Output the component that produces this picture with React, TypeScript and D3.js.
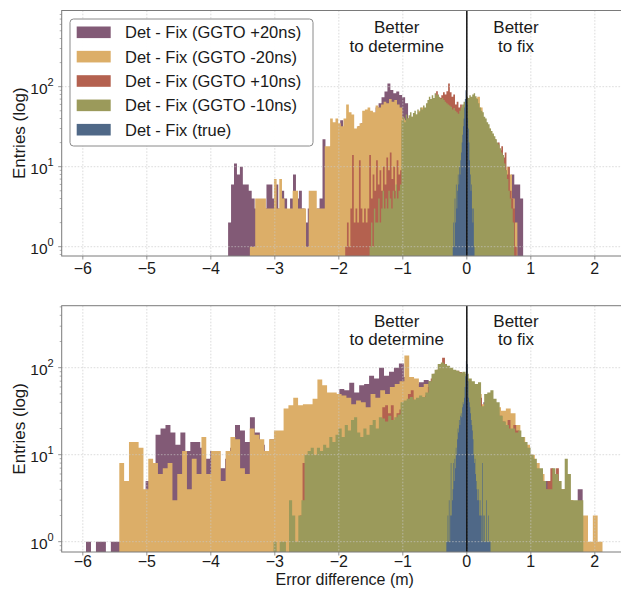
import React from 'react';
import * as d3 from 'd3';

const FONT = '"Liberation Sans", Arial, Helvetica, sans-serif';

const xTickValues = [-6, -5, -4, -3, -2, -1, 0, 1, 2];
const yTickExponents = [0, 1, 2];
const seriesLabels = [
  'Det - Fix (GGTO +20ns)',
  'Det - Fix (GGTO -20ns)',
  'Det - Fix (GGTO +10ns)',
  'Det - Fix (GGTO -10ns)',
  'Det - Fix (true)',
];
const seriesColors = ['#825a76', '#dcae68', '#b4614f', '#9b9a5b', '#4f6887'];

// ---------------- top panel (bin range + counts per series) ----------------
const topPlus20Range = [-3.73, 0.88];
const topPlus20Counts = [
  2, 6, 11, 8, 10, 6, 6, 5, 4, 3,
  3, 2, 3, 6, 6, 4, 6, 3, 5, 4,
  2, 4, 8, 4, 5, 3, 2, 3, 3, 2,
  3, 4, 22, 15, 17, 28, 30, 25, 38, 30,
  35, 30, 25, 28, 32, 35, 40, 38, 42, 45,
  55, 62, 74, 87, 110, 91, 83, 87, 79, 74,
  62, 40, 35, 40, 38, 42, 40, 45, 42, 40,
  45, 40, 38, 40, 35, 38, 35, 30, 32, 30,
  35, 30, 32, 30, 28, 25, 22, 20, 18, 15,
  14, 12, 10, 9, 8, 7, 8, 6, 6, 4,
];
const topMinus20Range = [-3.39, 0.79];
const topMinus20Counts = [
  1, 1, 4, 4, 4, 4, 3, 3, 3, 7,
  3, 7, 4, 3, 3, 3, 5, 5, 3, 3,
  3, 1, 5, 5, 5, 3, 3, 3, 18, 18,
  40, 36, 40, 35, 32, 40, 60, 48, 45, 30,
  32, 35, 50, 52, 55, 50, 48, 58, 55, 60,
  65, 62, 70, 65, 68, 60, 55, 40, 38, 40,
  42, 40, 45, 50, 55, 50, 55, 60, 58, 55,
  50, 55, 52, 50, 48, 45, 50, 45, 48, 50,
  55, 60, 65, 60, 72, 75, 55, 40, 35, 30,
  25, 20, 15, 14, 12, 9, 10, 8, 4, 2,
];
const topPlus10Range = [-1.9, 0.78];
const topPlus10Counts = [
  1, 2, 1, 3, 14, 2, 3, 2, 12, 3,
  2, 3, 2, 3, 14, 4, 8, 5, 12, 6,
  9, 5, 10, 6, 13, 9, 15, 7, 10, 5,
  12, 8, 9, 30, 25, 35, 30, 40, 35, 38,
  45, 40, 35, 45, 50, 45, 48, 52, 55, 60,
  62, 68, 65, 88, 75, 72, 78, 85, 80, 88,
  110, 85, 75, 80, 60, 65, 55, 60, 50, 55,
  60, 55, 58, 50, 55, 50, 45, 48, 40, 42,
  35, 36, 30, 28, 26, 24, 20, 22, 18, 20,
  16, 18, 13, 15, 8, 10, 5, 4, 3, 1,
];
const topMinus10Range = [-1.52, 0.74];
const topMinus10Counts = [
  1, 2, 1, 3, 2, 2, 4, 2, 3, 5,
  3, 4, 3, 5, 4, 3, 5, 4, 6, 4,
  5, 6, 38, 42, 36, 45, 40, 44, 48, 42,
  47, 50, 45, 52, 48, 55, 52, 58, 55, 62,
  68, 75, 70, 78, 72, 83, 78, 80, 74, 70,
  72, 68, 65, 62, 60, 58, 56, 52, 54, 50,
  48, 46, 50, 55, 60, 65, 70, 75, 72, 78,
  75, 80, 83, 76, 70, 62, 55, 50, 48, 42,
  40, 36, 34, 30, 28, 26, 24, 22, 20, 19,
  17, 15, 14, 11, 9, 7, 5, 4, 3, 2,
];
const topTrueRange = [-0.22, 0.12];
const topTrueCounts = [
  1, 2, 1, 4, 2, 6, 3, 5, 8, 6,
  10, 8, 12, 15, 20, 25, 32, 40, 55, 70,
  90, 85, 60, 40, 30, 20, 12, 8, 5, 6,
  3, 2, 3, 1,
];

// ---------------- bottom panel ----------------
const botPlus20Range = [-5.95, 1.81];
const botPlus20Counts = [
  1, 0, 1, 1, 0, 1, 1, 3, 4, 5,
  4, 3, 5, 6, 17, 20, 22, 18, 13, 18,
  11, 14, 14, 12, 9, 11, 11, 7, 9, 12,
  22, 19, 14, 27, 18, 13, 11, 15, 12, 18,
  25, 30, 28, 30, 25, 32, 35, 40, 38, 42,
  45, 57, 55, 67, 52, 63, 65, 81, 75, 100,
  81, 90, 100, 112, 78, 70, 65, 68, 72, 70,
  75, 80, 78, 82, 75, 70, 72, 60, 55, 34,
  40, 42, 33, 28, 25, 22, 18, 15, 12, 10,
  8, 6, 5, 5, 5, 4, 4, 3, 2, 4,
];
const botMinus20Range = [-5.43, 2.12];
const botMinus20Counts = [
  8, 5, 14, 14, 12, 4, 9, 8, 6, 7,
  8, 3, 6, 11, 4, 9, 6, 16, 6, 11,
  11, 5, 11, 16, 15, 7, 6, 20, 17, 15,
  11, 15, 19, 19, 34, 37, 45, 37, 38, 38,
  44, 73, 63, 52, 52, 50, 48, 45, 38, 42,
  40, 35, 50, 45, 55, 50, 60, 65, 70, 138,
  78, 75, 60, 65, 60, 70, 72, 70, 65, 68,
  62, 60, 55, 52, 50, 38, 45, 40, 35, 32,
  34, 30, 22, 16, 13, 10, 8, 6, 4, 5,
  4, 4, 3, 3, 2, 2, 2, 1, 2, 1,
];
const botPlus10Range = [-2.7, 1.75];
const botPlus10Counts = [
  1, 0, 2, 8, 5, 6, 7, 6, 8, 7,
  9, 8, 10, 9, 12, 13, 12, 14, 13, 15,
  17, 15, 14, 13, 14, 13, 16, 15, 18, 17,
  22, 35, 37, 30, 37, 25, 30, 33, 35, 38,
  50, 55, 42, 40, 42, 45, 48, 60, 75, 85,
  95, 100, 130, 100, 98, 92, 90, 92, 89, 85,
  82, 70, 62, 58, 50, 45, 35, 40, 42, 40,
  35, 30, 28, 24, 22, 25, 18, 22, 19, 15,
  12, 10, 9, 8, 7, 6, 6, 5, 4, 5,
  7, 6, 7, 4, 3, 4, 3, 2, 2, 1,
];
const botMinus10Range = [-3.02, 1.82];
const botMinus10Counts = [
  1, 0, 1, 1, 0, 3, 2, 1, 2, 3,
  10, 11, 12, 10, 12, 11, 13, 12, 16, 14,
  17, 20, 16, 22, 19, 25, 27, 18, 16, 20,
  17, 22, 25, 20, 27, 26, 24, 28, 25, 27,
  29, 40, 42, 44, 46, 43, 45, 48, 46, 52,
  70, 85, 95, 110, 115, 110, 105, 100, 95, 92,
  88, 90, 85, 75, 70, 65, 68, 36, 50, 52,
  55, 44, 40, 28, 24, 22, 20, 20, 18, 19,
  16, 14, 12, 10, 9, 7, 7, 5, 4, 4,
  7, 6, 5, 4, 9, 6, 3, 3, 3, 3,
];
const botTrueRange = [-0.32, 0.37];
const botTrueCounts = [
  1, 1, 2, 1, 3, 1, 2, 8, 2, 3,
  4, 8, 5, 9, 7, 12, 10, 15, 20, 18,
  25, 22, 28, 30, 27, 35, 40, 38, 45, 60,
  80, 120, 160, 110, 70, 45, 40, 35, 30, 25,
  22, 19, 15, 10, 8, 9, 6, 5, 4, 3,
  4, 3, 2, 3, 2, 2, 1, 8, 2, 1,
  2, 1, 1, 3, 1, 1, 2, 1, 1, 1,
];

type Series = { range: number[]; counts: number[]; color: string };

const topSeries: Series[] = [
  { range: topPlus20Range, counts: topPlus20Counts, color: seriesColors[0] },
  { range: topMinus20Range, counts: topMinus20Counts, color: seriesColors[1] },
  { range: topPlus10Range, counts: topPlus10Counts, color: seriesColors[2] },
  { range: topMinus10Range, counts: topMinus10Counts, color: seriesColors[3] },
  { range: topTrueRange, counts: topTrueCounts, color: seriesColors[4] },
];
const bottomSeries: Series[] = [
  { range: botPlus20Range, counts: botPlus20Counts, color: seriesColors[0] },
  { range: botMinus20Range, counts: botMinus20Counts, color: seriesColors[1] },
  { range: botPlus10Range, counts: botPlus10Counts, color: seriesColors[2] },
  { range: botMinus10Range, counts: botMinus10Counts, color: seriesColors[3] },
  { range: botTrueRange, counts: botTrueCounts, color: seriesColors[4] },
];

const W = 621;
const H = 589;
const xDomain = [-6.33, 2.42];
const plotLeft = 61.7;
const plotRight = 621.7;

type PanelCfg = {
  id: string;
  top: number;
  bottom: number;
  yDomain: [number, number];
  series: Series[];
  textBaselines: [number, number];
  tickOffset: number;
  legend: boolean;
  xlabel: boolean;
};

const panels: PanelCfg[] = [
  { id: 'a', top: 10.5, bottom: 256, yDomain: [0.765, 896], series: topSeries, textBaselines: [33.3, 51.7], tickOffset: 17.5, legend: true, xlabel: false },
  { id: 'b', top: 305.7, bottom: 552, yDomain: [0.761, 516], series: bottomSeries, textBaselines: [327, 345.3], tickOffset: 15.3, legend: false, xlabel: true },
];

function histPath(s: Series, x: d3.ScaleLinear<number, number>, y: d3.ScaleLogarithmic<number, number>, base: number) {
  const n = s.counts.length;
  const lo = s.range[0];
  const hi = s.range[1];
  const w = (hi - lo) / n;
  const pts = s.counts.map((c, i) => ({ e: lo + i * w, c }));
  pts.push({ e: hi, c: s.counts[n - 1] });
  const gen = d3
    .area<{ e: number; c: number }>()
    .x((d) => x(d.e))
    .y0(base)
    .y1((d) => (d.c > 0 ? y(d.c) : base))
    .curve(d3.curveStepAfter);
  return gen(pts) || '';
}

function Panel({ cfg, x }: { cfg: PanelCfg; x: d3.ScaleLinear<number, number> }) {
  const y = d3.scaleLog().domain(cfg.yDomain).range([cfg.bottom, cfg.top]);
  const minor: number[] = [];
  for (let k = -1; k <= 3; k++) {
    for (let m = 2; m <= 9; m++) {
      const v = m * Math.pow(10, k);
      if (v > cfg.yDomain[0] && v < cfg.yDomain[1]) minor.push(v);
    }
  }
  const gridColor = '#c9c9c9';
  const spine = '#7a7a7a';
  const cx = (plotLeft + plotRight) / 2;
  const cy = (cfg.top + cfg.bottom) / 2;
  return (
    <g>
      <defs>
        <clipPath id={`clip-${cfg.id}`}>
          <rect x={plotLeft} y={cfg.top} width={plotRight - plotLeft} height={cfg.bottom - cfg.top} />
        </clipPath>
      </defs>
      <g clipPath={`url(#clip-${cfg.id})`}>
        {cfg.series.map((s, i) => (
          <path key={i} d={histPath(s, x, y, cfg.bottom)} fill={s.color} />
        ))}
        {xTickValues.map((t) => (
          <line key={`gx${t}`} x1={x(t)} x2={x(t)} y1={cfg.top} y2={cfg.bottom} stroke={gridColor} strokeWidth={0.8} strokeDasharray="1.6,1.6" opacity={0.8} />
        ))}
        {yTickExponents.map((k) => (
          <line key={`gy${k}`} x1={plotLeft} x2={plotRight} y1={y(Math.pow(10, k))} y2={y(Math.pow(10, k))} stroke={gridColor} strokeWidth={0.8} strokeDasharray="1.6,1.6" opacity={0.8} />
        ))}
        <line x1={x(0)} x2={x(0)} y1={cfg.top} y2={cfg.bottom} stroke="#111" strokeWidth={1.5} />
      </g>
      {/* spines */}
      <rect x={plotLeft} y={cfg.top} width={plotRight - plotLeft} height={cfg.bottom - cfg.top} fill="none" stroke={spine} strokeWidth={1} />
      {/* x ticks */}
      {xTickValues.map((t) => (
        <g key={`xt${t}`}>
          <line x1={x(t)} x2={x(t)} y1={cfg.bottom} y2={cfg.bottom + 3.5} stroke={spine} strokeWidth={0.8} />
          <text x={x(t)} y={cfg.bottom + cfg.tickOffset} textAnchor="middle" fontSize={16} fill="#1a1a1a" fontFamily={FONT}>
            {t < 0 ? `\u2212${Math.abs(t)}` : `${t}`}
          </text>
        </g>
      ))}
      {/* y ticks */}
      {yTickExponents.map((k) => (
        <g key={`yt${k}`}>
          <line x1={plotLeft - 3.5} x2={plotLeft} y1={y(Math.pow(10, k))} y2={y(Math.pow(10, k))} stroke={spine} strokeWidth={0.8} />
          <text x={plotLeft - 8} y={y(Math.pow(10, k)) + 7} textAnchor="end" fontSize={15.5} fill="#1a1a1a" fontFamily={FONT}>
            10<tspan dy={-7.5} fontSize={11}>{k}</tspan>
          </text>
        </g>
      ))}
      {minor.map((v, i) => (
        <line key={`mt${i}`} x1={plotLeft - 2} x2={plotLeft} y1={y(v)} y2={y(v)} stroke={spine} strokeWidth={0.6} />
      ))}
      <text transform={`translate(24.5,${cy}) rotate(-90)`} textAnchor="middle" fontSize={17} fill="#1a1a1a" fontFamily={FONT}>
        Entries (log)
      </text>
      {/* annotations */}
      <g fontFamily={FONT} fontSize={17} fill="#1a1a1a" textAnchor="middle">
        <text x={396.7} y={cfg.textBaselines[0]}>Better</text>
        <text x={396.7} y={cfg.textBaselines[1]}>to determine</text>
        <text x={516} y={cfg.textBaselines[0]}>Better</text>
        <text x={516} y={cfg.textBaselines[1]}>to fix</text>
      </g>
      {cfg.xlabel && (
        <text x={cx + 3} y={585.4} textAnchor="middle" fontSize={16} fill="#1a1a1a" fontFamily={FONT}>
          Error difference (m)
        </text>
      )}
      {cfg.legend && (
        <g fontFamily={FONT}>
          <rect x={70} y={19} width={243} height={127} rx={3.5} fill="#fff" fillOpacity={0.95} stroke="#8a8a8a" strokeWidth={1} />
          {seriesLabels.map((lab, i) => {
            const rowY = 32.3 + i * 24.35;
            return (
              <g key={lab}>
                <rect x={76.7} y={rowY - 5.8} width={34} height={11.6} fill={seriesColors[i]} />
                <text x={125} y={rowY + 6} fontSize={16.5} fill="#1a1a1a">{lab}</text>
              </g>
            );
          })}
        </g>
      )}
    </g>
  );
}

export default function App() {
  const x = d3.scaleLinear().domain(xDomain).range([plotLeft, plotRight]);
  return (
    <svg
      width={W}
      height={H}
      viewBox={`0 0 ${W} ${H}`}
      style={{ position: 'absolute', left: 0, top: 0, display: 'block', background: '#fff' }}
    >
      <rect x={0} y={0} width={W} height={H} fill="#fff" />
      {panels.map((p) => (
        <Panel key={p.id} cfg={p} x={x} />
      ))}
    </svg>
  );
}
